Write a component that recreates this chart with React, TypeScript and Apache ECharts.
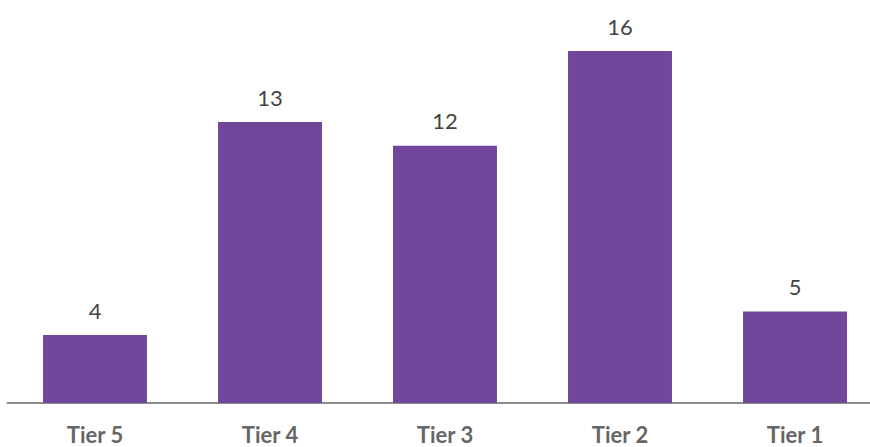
import React, { useEffect, useRef } from "react";
import * as echarts from "echarts";

const categories = ["Tier 5", "Tier 4", "Tier 3", "Tier 2", "Tier 1"];
const values = [4, 13, 12, 16, 5];

export default function App() {
  const ref = useRef<HTMLDivElement>(null);
  useEffect(() => {
    if (!ref.current) return;
    const chart = echarts.init(ref.current, undefined, { renderer: "svg" });
    chart.setOption({
      animation: false,
      grid: { left: 7.5, right: 7.5, top: 20, bottom: 44, containLabel: false },
      xAxis: {
        type: "category",
        data: categories,
        axisTick: { show: false },
        axisLine: { lineStyle: { color: "#8c8c8c", width: 2 } },
        axisLabel: {
          margin: 20.5,
          lineHeight: 21,
          fontFamily: "Lato",
          fontWeight: "bold",
          fontSize: 22,
          color: "#666666",
        },
      },
      yAxis: {
        type: "value",
        min: 1.13,
        max: 17.31,
        show: false,
        splitLine: { show: false },
      },
      series: [
        {
          type: "bar",
          data: values,
          barWidth: "59.4%",
          itemStyle: { color: "#71479b" },
          label: {
            show: true,
            position: "top",
            distance: 14,
            fontFamily: "Lato",
            fontSize: 22,
            color: "#444444",
          },
        },
      ],
    });
    return () => chart.dispose();
  }, []);
  return (
    <div style={{ width: 870, height: 447, position: "absolute", left: 0, top: 0, overflow: "hidden" }}>
      <div ref={ref} style={{ width: 890, height: 447 }} />
    </div>
  );
}
